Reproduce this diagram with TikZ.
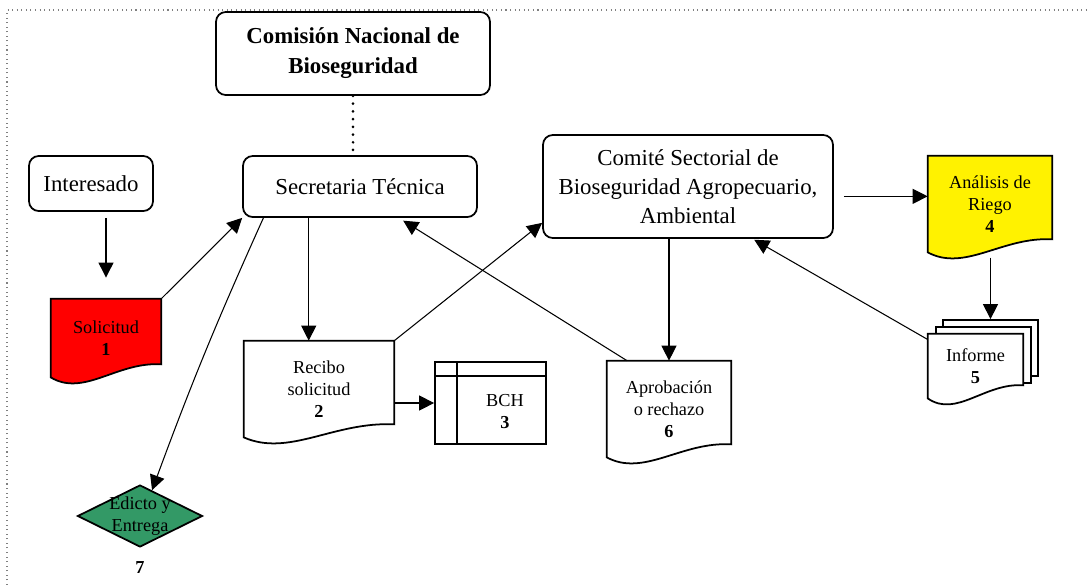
\documentclass[tikz,border=0pt]{standalone}
\usepackage{fontspec}
\setmainfont{Liberation Serif}
\usetikzlibrary{arrows.meta, shapes.geometric, calc, backgrounds}

\definecolor{edictogreen}{RGB}{51,153,102}

\newcommand{\boxfont}{\fontsize{13pt}{16.4pt}\selectfont}
\newcommand{\docfont}{\fontsize{10.4pt}{12.5pt}\selectfont}
\newcommand{\headfont}{\bfseries\fontsize{13pt}{17pt}\selectfont}

\newcommand{\docoutline}[2]{%
  \draw [docline, fill = #2] (#1.north west) -- (#1.north east)
    -- ($(#1.south east) + (0, -13)$)
    .. controls ($(#1.south west)!0.6!(#1.south east) + (0, -16)$)
    and ($(#1.south west)!0.3!(#1.south east) + (0, 20)$)
    .. (#1.south west) -- cycle;}

\begin{document}
\begin{tikzpicture}[
  x = 0.02cm,
  y = -0.02cm,
  > = {Triangle[length = 8.5pt, width = 8.5pt]},
  box/.style = {draw, line width = 1pt, rounded corners = 5.5pt, align = center, font = \boxfont, inner sep = 0pt},
  document/.style = {align = center, font = \docfont, inner sep = 0pt},
  docline/.style = {line width = 1pt},
  page/.style = {draw, fill = white, line width = 1pt, minimum width = 1.9cm, minimum height = 1.12cm},
  decision/.style = {diamond, draw, fill = edictogreen, line width = 1pt, inner sep = 0pt, minimum width = 2.5cm, minimum height = 1.24cm},
  flow/.style = {->, line width = 0.6pt},
  ]

  \useasboundingbox (0, 0) rectangle (1089, 585);

  \draw [gray, dotted, line width = 0.6pt] (7, 585) -- (7, 10) -- (1089, 10);

  \node at (353, 53.5)
  [box, font = \headfont, minimum width = 5.48cm, minimum height = 1.66cm, name = Comision] {Comisión Nacional de\\Bioseguridad};

  \node at (91, 183.5)
  [box, minimum width = 2.48cm, minimum height = 1.1cm, name = Interesado] {Interesado};

  \node at (360, 186.5)
  [box, minimum width = 4.68cm, minimum height = 1.22cm, name = Secretaria] {Secretaria Técnica};

  \node at (688, 186.5)
  [box, minimum width = 5.8cm, minimum height = 2.06cm, name = Comite] {Comité Sectorial de\\Bioseguridad Agropecuario,\\Ambiental};

  \node at (106, 338)
  [document, minimum width = 2.2cm, minimum height = 1.56cm, name = Solicitud] {Solicitud\\\textbf{1}};

  \node at (319, 389)
  [document, minimum width = 3cm, minimum height = 1.92cm, name = Recibo] {Recibo\\solicitud\\\textbf{2}};

  \node at (490.5, 403)
  [document, draw, line width = 1pt, minimum width = 2.22cm, minimum height = 1.64cm, name = BCH,
   label = {[document, xshift = 0.29cm, yshift = -0.18cm]center:{BCH\\\textbf{3}}}] {};

  \node at (669, 409)
  [document, minimum width = 2.48cm, minimum height = 1.92cm, name = Aprobacion] {Aprobación\\o rechazo\\\textbf{6}};

  \node at (990, 204)
  [document, minimum width = 2.48cm, minimum height = 1.92cm, name = Analisis] {Análisis de\\Riego\\\textbf{4}};

  \node at (975.5, 366)
  [document, minimum width = 1.9cm, minimum height = 1.28cm, name = Informe] {Informe\\\textbf{5}};

  \node at (140, 516)
  [decision, name = Edicto,
   label = {[document]center:{Edicto y\\Entrega}},
   label = {[document, label distance = 0.26cm]below:\textbf{7}}] {};

  \begin{scope}[on background layer]
    \docoutline{Solicitud}{red}
    \docoutline{Recibo}{white}
    \docoutline{Aprobacion}{white}
    \docoutline{Analisis}{yellow}
    \node at ($(Informe) + (15, -18)$) [page, name = InformeBack] {};
    \node at ($(Informe) + (8, -11)$) [page, name = InformeMid] {};
    \docoutline{Informe}{white}
  \end{scope}

  \draw [docline] ($(BCH.north west) + (0, 15)$) -- ($(BCH.north east) + (0, 15)$);

  \draw [docline] ($(BCH.north west) + (23, 0)$) -- ($(BCH.south west) + (23, 0)$);

  \draw [dash pattern = on 0pt off 4.4pt, line cap = round, line width = 1.7pt] (Comision.south) to (Comision.south |- Secretaria.north);

  \draw [flow, shorten <= 3.4pt, shorten >= 12pt] (Interesado.south -| Solicitud.north) to (Solicitud.north);

  \draw [flow] (Solicitud.north east) to (Secretaria.south west);

  \draw [flow] (Secretaria.198) to [bend right = 2] (Edicto.65);

  \draw [flow] (Secretaria.south -| Recibo.102) to (Recibo.102);

  \draw [flow] (Recibo.east |- BCH.west) to (BCH.west);

  \draw [flow] (Recibo.north east) to (Comite.194);

  \draw [flow, shorten >= 3pt] (Aprobacion.131) to (Secretaria.321);

  \draw [flow] (Comite.south -| Aprobacion.north) to (Aprobacion.north);

  \draw [flow, shorten <= 5.7pt] (Comite.east |- Analisis.173) to (Analisis.173);

  \draw [flow, shorten <= 3pt] (Analisis.south -| InformeBack.north) to (InformeBack.north);

  \draw [flow, shorten >= 1pt] (Informe.151) to (Comite.321);

\end{tikzpicture}
\end{document}
